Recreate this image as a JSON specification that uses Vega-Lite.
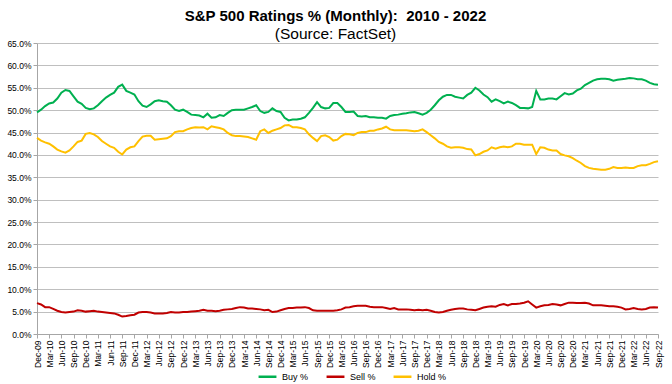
{
  "$schema": "https://vega.github.io/schema/vega-lite/v6.json",
  "width": 621,
  "height": 291,
  "autosize": {"type": "none"},
  "padding": {"left": 37, "top": 43, "right": 14, "bottom": 50},
  "background": "white",
  "title": {
    "text": "S&P 500 Ratings % (Monthly):\u00a0 2010 - 2022",
    "subtitle": "(Source: FactSet)",
    "font": "Liberation Sans",
    "subtitleFont": "Liberation Sans",
    "fontSize": 15,
    "subtitleFontSize": 15.5,
    "fontWeight": "bold",
    "color": "black",
    "subtitleColor": "black",
    "anchor": "middle",
    "offset": -3,
    "subtitlePadding": 3,
    "dx": -12
  },
  "data": {
    "values": [
      {"d": "2009-12", "Buy": 49.5, "Sell": 6.9, "Hold": 43.8},
      {"d": "2010-01", "Buy": 50.1, "Sell": 6.6, "Hold": 43.2},
      {"d": "2010-02", "Buy": 50.9, "Sell": 6.0, "Hold": 42.8},
      {"d": "2010-03", "Buy": 51.5, "Sell": 6.0, "Hold": 42.5},
      {"d": "2010-04", "Buy": 51.7, "Sell": 5.6, "Hold": 41.9},
      {"d": "2010-05", "Buy": 52.6, "Sell": 5.2, "Hold": 41.2},
      {"d": "2010-06", "Buy": 53.9, "Sell": 4.9, "Hold": 40.8},
      {"d": "2010-07", "Buy": 54.5, "Sell": 4.8, "Hold": 40.5},
      {"d": "2010-08", "Buy": 54.3, "Sell": 4.9, "Hold": 41.0},
      {"d": "2010-09", "Buy": 53.1, "Sell": 5.0, "Hold": 41.9},
      {"d": "2010-10", "Buy": 51.9, "Sell": 5.3, "Hold": 42.9},
      {"d": "2010-11", "Buy": 51.4, "Sell": 5.2, "Hold": 43.2},
      {"d": "2010-12", "Buy": 50.5, "Sell": 5.0, "Hold": 44.7},
      {"d": "2011-01", "Buy": 50.2, "Sell": 5.1, "Hold": 44.9},
      {"d": "2011-02", "Buy": 50.4, "Sell": 5.2, "Hold": 44.6},
      {"d": "2011-03", "Buy": 51.1, "Sell": 5.0, "Hold": 44.0},
      {"d": "2011-04", "Buy": 52.0, "Sell": 4.9, "Hold": 43.1},
      {"d": "2011-05", "Buy": 52.8, "Sell": 4.8, "Hold": 42.5},
      {"d": "2011-06", "Buy": 53.4, "Sell": 4.7, "Hold": 41.9},
      {"d": "2011-07", "Buy": 53.9, "Sell": 4.6, "Hold": 41.6},
      {"d": "2011-08", "Buy": 55.2, "Sell": 4.3, "Hold": 40.7},
      {"d": "2011-09", "Buy": 55.7, "Sell": 3.9, "Hold": 40.1},
      {"d": "2011-10", "Buy": 54.3, "Sell": 4.0, "Hold": 41.2},
      {"d": "2011-11", "Buy": 53.9, "Sell": 4.2, "Hold": 41.7},
      {"d": "2011-12", "Buy": 53.5, "Sell": 4.3, "Hold": 41.9},
      {"d": "2012-01", "Buy": 52.0, "Sell": 4.8, "Hold": 43.1},
      {"d": "2012-02", "Buy": 51.0, "Sell": 4.9, "Hold": 44.1},
      {"d": "2012-03", "Buy": 50.7, "Sell": 4.9, "Hold": 44.3},
      {"d": "2012-04", "Buy": 51.3, "Sell": 4.8, "Hold": 44.3},
      {"d": "2012-05", "Buy": 52.0, "Sell": 4.6, "Hold": 43.4},
      {"d": "2012-06", "Buy": 52.2, "Sell": 4.6, "Hold": 43.5},
      {"d": "2012-07", "Buy": 52.0, "Sell": 4.6, "Hold": 43.6},
      {"d": "2012-08", "Buy": 51.9, "Sell": 4.7, "Hold": 43.7},
      {"d": "2012-09", "Buy": 51.1, "Sell": 4.9, "Hold": 44.2},
      {"d": "2012-10", "Buy": 50.1, "Sell": 4.8, "Hold": 45.1},
      {"d": "2012-11", "Buy": 49.8, "Sell": 4.8, "Hold": 45.3},
      {"d": "2012-12", "Buy": 50.1, "Sell": 4.9, "Hold": 45.3},
      {"d": "2013-01", "Buy": 49.6, "Sell": 4.9, "Hold": 45.7},
      {"d": "2013-02", "Buy": 49.0, "Sell": 5.0, "Hold": 46.0},
      {"d": "2013-03", "Buy": 48.9, "Sell": 5.1, "Hold": 46.2},
      {"d": "2013-04", "Buy": 48.8, "Sell": 5.2, "Hold": 46.1},
      {"d": "2013-05", "Buy": 48.4, "Sell": 5.4, "Hold": 46.2},
      {"d": "2013-06", "Buy": 49.2, "Sell": 5.2, "Hold": 45.7},
      {"d": "2013-07", "Buy": 48.3, "Sell": 5.2, "Hold": 46.4},
      {"d": "2013-08", "Buy": 48.4, "Sell": 5.1, "Hold": 46.2},
      {"d": "2013-09", "Buy": 48.9, "Sell": 5.2, "Hold": 46.0},
      {"d": "2013-10", "Buy": 48.7, "Sell": 5.4, "Hold": 45.7},
      {"d": "2013-11", "Buy": 49.4, "Sell": 5.5, "Hold": 44.9},
      {"d": "2013-12", "Buy": 50.0, "Sell": 5.6, "Hold": 44.4},
      {"d": "2014-01", "Buy": 50.1, "Sell": 5.8, "Hold": 44.2},
      {"d": "2014-02", "Buy": 50.1, "Sell": 6.0, "Hold": 44.2},
      {"d": "2014-03", "Buy": 50.1, "Sell": 5.9, "Hold": 44.1},
      {"d": "2014-04", "Buy": 50.4, "Sell": 5.7, "Hold": 44.0},
      {"d": "2014-05", "Buy": 50.7, "Sell": 5.7, "Hold": 43.7},
      {"d": "2014-06", "Buy": 51.1, "Sell": 5.6, "Hold": 43.4},
      {"d": "2014-07", "Buy": 49.8, "Sell": 5.5, "Hold": 45.3},
      {"d": "2014-08", "Buy": 49.4, "Sell": 5.3, "Hold": 45.7},
      {"d": "2014-09", "Buy": 49.6, "Sell": 5.4, "Hold": 44.9},
      {"d": "2014-10", "Buy": 50.4, "Sell": 4.9, "Hold": 45.4},
      {"d": "2014-11", "Buy": 49.8, "Sell": 5.0, "Hold": 45.7},
      {"d": "2014-12", "Buy": 49.6, "Sell": 5.3, "Hold": 46.0},
      {"d": "2015-01", "Buy": 48.3, "Sell": 5.6, "Hold": 46.6},
      {"d": "2015-02", "Buy": 47.7, "Sell": 5.8, "Hold": 46.7},
      {"d": "2015-03", "Buy": 47.9, "Sell": 5.8, "Hold": 46.2},
      {"d": "2015-04", "Buy": 47.9, "Sell": 5.9, "Hold": 46.2},
      {"d": "2015-05", "Buy": 48.1, "Sell": 5.9, "Hold": 46.0},
      {"d": "2015-06", "Buy": 48.4, "Sell": 6.0, "Hold": 45.7},
      {"d": "2015-07", "Buy": 49.4, "Sell": 5.8, "Hold": 44.6},
      {"d": "2015-08", "Buy": 50.5, "Sell": 5.3, "Hold": 43.8},
      {"d": "2015-09", "Buy": 51.8, "Sell": 5.2, "Hold": 43.1},
      {"d": "2015-10", "Buy": 50.7, "Sell": 5.2, "Hold": 44.2},
      {"d": "2015-11", "Buy": 50.4, "Sell": 5.2, "Hold": 44.4},
      {"d": "2015-12", "Buy": 50.5, "Sell": 5.2, "Hold": 44.0},
      {"d": "2016-01", "Buy": 51.6, "Sell": 5.2, "Hold": 43.2},
      {"d": "2016-02", "Buy": 51.6, "Sell": 5.3, "Hold": 43.4},
      {"d": "2016-03", "Buy": 50.7, "Sell": 5.5, "Hold": 44.2},
      {"d": "2016-04", "Buy": 49.6, "Sell": 5.9, "Hold": 44.7},
      {"d": "2016-05", "Buy": 49.6, "Sell": 6.0, "Hold": 44.6},
      {"d": "2016-06", "Buy": 49.7, "Sell": 6.2, "Hold": 44.4},
      {"d": "2016-07", "Buy": 48.7, "Sell": 6.3, "Hold": 44.9},
      {"d": "2016-08", "Buy": 48.6, "Sell": 6.3, "Hold": 45.1},
      {"d": "2016-09", "Buy": 48.7, "Sell": 6.3, "Hold": 45.1},
      {"d": "2016-10", "Buy": 48.4, "Sell": 6.1, "Hold": 45.4},
      {"d": "2016-11", "Buy": 48.4, "Sell": 6.0, "Hold": 45.4},
      {"d": "2016-12", "Buy": 48.3, "Sell": 6.0, "Hold": 45.7},
      {"d": "2017-01", "Buy": 48.3, "Sell": 6.0, "Hold": 45.9},
      {"d": "2017-02", "Buy": 48.1, "Sell": 5.8, "Hold": 46.3},
      {"d": "2017-03", "Buy": 48.7, "Sell": 5.6, "Hold": 45.7},
      {"d": "2017-04", "Buy": 48.9, "Sell": 5.8, "Hold": 45.5},
      {"d": "2017-05", "Buy": 49.0, "Sell": 5.5, "Hold": 45.5},
      {"d": "2017-06", "Buy": 49.2, "Sell": 5.5, "Hold": 45.5},
      {"d": "2017-07", "Buy": 49.3, "Sell": 5.5, "Hold": 45.5},
      {"d": "2017-08", "Buy": 49.5, "Sell": 5.4, "Hold": 45.4},
      {"d": "2017-09", "Buy": 49.6, "Sell": 5.3, "Hold": 45.3},
      {"d": "2017-10", "Buy": 49.3, "Sell": 5.4, "Hold": 45.4},
      {"d": "2017-11", "Buy": 49.0, "Sell": 5.3, "Hold": 45.7},
      {"d": "2017-12", "Buy": 49.4, "Sell": 5.4, "Hold": 45.1},
      {"d": "2018-01", "Buy": 50.1, "Sell": 5.2, "Hold": 44.4},
      {"d": "2018-02", "Buy": 51.1, "Sell": 4.9, "Hold": 43.7},
      {"d": "2018-03", "Buy": 52.2, "Sell": 4.8, "Hold": 42.9},
      {"d": "2018-04", "Buy": 53.0, "Sell": 4.9, "Hold": 42.5},
      {"d": "2018-05", "Buy": 53.4, "Sell": 5.2, "Hold": 41.9},
      {"d": "2018-06", "Buy": 53.4, "Sell": 5.4, "Hold": 41.6},
      {"d": "2018-07", "Buy": 53.0, "Sell": 5.6, "Hold": 41.7},
      {"d": "2018-08", "Buy": 52.8, "Sell": 5.7, "Hold": 41.7},
      {"d": "2018-09", "Buy": 52.6, "Sell": 5.7, "Hold": 41.6},
      {"d": "2018-10", "Buy": 53.4, "Sell": 5.5, "Hold": 41.3},
      {"d": "2018-11", "Buy": 53.9, "Sell": 5.4, "Hold": 41.2},
      {"d": "2018-12", "Buy": 55.0, "Sell": 5.3, "Hold": 39.9},
      {"d": "2019-01", "Buy": 54.4, "Sell": 5.6, "Hold": 40.2},
      {"d": "2019-02", "Buy": 53.5, "Sell": 5.9, "Hold": 40.7},
      {"d": "2019-03", "Buy": 52.9, "Sell": 6.1, "Hold": 41.0},
      {"d": "2019-04", "Buy": 51.9, "Sell": 6.2, "Hold": 41.7},
      {"d": "2019-05", "Buy": 52.4, "Sell": 6.1, "Hold": 41.4},
      {"d": "2019-06", "Buy": 52.0, "Sell": 6.5, "Hold": 41.7},
      {"d": "2019-07", "Buy": 51.5, "Sell": 6.7, "Hold": 41.9},
      {"d": "2019-08", "Buy": 51.9, "Sell": 6.4, "Hold": 41.7},
      {"d": "2019-09", "Buy": 51.6, "Sell": 6.7, "Hold": 41.9},
      {"d": "2019-10", "Buy": 51.1, "Sell": 6.7, "Hold": 42.5},
      {"d": "2019-11", "Buy": 50.5, "Sell": 6.8, "Hold": 42.5},
      {"d": "2019-12", "Buy": 50.5, "Sell": 7.0, "Hold": 42.3},
      {"d": "2020-01", "Buy": 50.4, "Sell": 7.3, "Hold": 42.3},
      {"d": "2020-02", "Buy": 50.7, "Sell": 6.6, "Hold": 42.3},
      {"d": "2020-03", "Buy": 54.3, "Sell": 5.9, "Hold": 40.2},
      {"d": "2020-04", "Buy": 52.4, "Sell": 6.2, "Hold": 41.7},
      {"d": "2020-05", "Buy": 52.4, "Sell": 6.4, "Hold": 41.6},
      {"d": "2020-06", "Buy": 52.6, "Sell": 6.5, "Hold": 41.2},
      {"d": "2020-07", "Buy": 52.6, "Sell": 6.7, "Hold": 41.0},
      {"d": "2020-08", "Buy": 52.4, "Sell": 6.6, "Hold": 41.0},
      {"d": "2020-09", "Buy": 53.1, "Sell": 6.4, "Hold": 40.2},
      {"d": "2020-10", "Buy": 53.8, "Sell": 6.7, "Hold": 39.9},
      {"d": "2020-11", "Buy": 53.5, "Sell": 7.0, "Hold": 39.7},
      {"d": "2020-12", "Buy": 53.7, "Sell": 7.0, "Hold": 39.3},
      {"d": "2021-01", "Buy": 54.4, "Sell": 6.9, "Hold": 38.7},
      {"d": "2021-02", "Buy": 54.8, "Sell": 6.9, "Hold": 38.2},
      {"d": "2021-03", "Buy": 55.6, "Sell": 7.0, "Hold": 37.5},
      {"d": "2021-04", "Buy": 56.1, "Sell": 6.8, "Hold": 37.1},
      {"d": "2021-05", "Buy": 56.6, "Sell": 6.4, "Hold": 36.9},
      {"d": "2021-06", "Buy": 56.9, "Sell": 6.4, "Hold": 36.8},
      {"d": "2021-07", "Buy": 57.0, "Sell": 6.4, "Hold": 36.7},
      {"d": "2021-08", "Buy": 57.0, "Sell": 6.3, "Hold": 36.7},
      {"d": "2021-09", "Buy": 56.9, "Sell": 6.2, "Hold": 36.9},
      {"d": "2021-10", "Buy": 56.6, "Sell": 6.2, "Hold": 37.3},
      {"d": "2021-11", "Buy": 56.8, "Sell": 6.1, "Hold": 37.1},
      {"d": "2021-12", "Buy": 56.9, "Sell": 5.9, "Hold": 37.1},
      {"d": "2022-01", "Buy": 57.0, "Sell": 5.5, "Hold": 37.2},
      {"d": "2022-02", "Buy": 57.2, "Sell": 5.6, "Hold": 37.1},
      {"d": "2022-03", "Buy": 57.1, "Sell": 5.8, "Hold": 37.1},
      {"d": "2022-04", "Buy": 56.9, "Sell": 5.6, "Hold": 37.5},
      {"d": "2022-05", "Buy": 56.9, "Sell": 5.5, "Hold": 37.7},
      {"d": "2022-06", "Buy": 56.6, "Sell": 5.6, "Hold": 37.7},
      {"d": "2022-07", "Buy": 56.1, "Sell": 5.9, "Hold": 38.0},
      {"d": "2022-08", "Buy": 55.8, "Sell": 6.0, "Hold": 38.4},
      {"d": "2022-09", "Buy": 55.7, "Sell": 5.9, "Hold": 38.6}
    ]
  },
  "transform": [{"fold": ["Buy", "Sell", "Hold"], "as": ["series", "value"]}],
  "mark": {"type": "line", "strokeWidth": 2},
  "encoding": {
    "x": {
      "field": "d",
      "type": "ordinal",
      "scale": {"type": "point", "padding": 0},
      "axis": {
        "title": null,
        "values": ["2009-12","2010-03","2010-06","2010-09","2010-12","2011-03","2011-06","2011-09","2011-12","2012-03","2012-06","2012-09","2012-12","2013-03","2013-06","2013-09","2013-12","2014-03","2014-06","2014-09","2014-12","2015-03","2015-06","2015-09","2015-12","2016-03","2016-06","2016-09","2016-12","2017-03","2017-06","2017-09","2017-12","2018-03","2018-06","2018-09","2018-12","2019-03","2019-06","2019-09","2019-12","2020-03","2020-06","2020-09","2020-12","2021-03","2021-06","2021-09","2021-12","2022-03","2022-06","2022-09"],
        "labelExpr": "['Jan','Feb','Mar','Apr','May','Jun','Jul','Aug','Sep','Oct','Nov','Dec'][toNumber(substring(datum.value, 5, 7)) - 1] + '-' + substring(datum.value, 2, 4)",
        "labelAngle": -90,
        "labelFontSize": 8.5,
        "labelColor": "black",
        "labelFont": "Liberation Sans",
        "labelPadding": 2,
        "tickSize": 4,
        "tickColor": "#A6A6A6",
        "domainColor": "#A6A6A6",
        "grid": false
      }
    },
    "y": {
      "field": "value",
      "type": "quantitative",
      "scale": {"domain": [0, 65], "nice": false},
      "axis": {
        "title": null,
        "values": [0, 5, 10, 15, 20, 25, 30, 35, 40, 45, 50, 55, 60, 65],
        "labelExpr": "format(datum.value, '.1f') + '%'",
        "labelFontSize": 8.5,
        "labelColor": "black",
        "labelFont": "Liberation Sans",
        "labelPadding": 2,
        "tickSize": 4,
        "tickColor": "#A6A6A6",
        "domainColor": "#A6A6A6",
        "grid": true,
        "gridColor": "#BFBFBF",
        "gridWidth": 1
      }
    },
    "color": {
      "field": "series",
      "type": "nominal",
      "scale": {"domain": ["Buy", "Sell", "Hold"], "range": ["#00B050", "#C00000", "#FFC000"]},
      "legend": {
        "orient": "none",
        "legendX": 220,
        "legendY": 323,
        "direction": "horizontal",
        "title": null,
        "symbolType": "stroke",
        "symbolStrokeWidth": 2.5,
        "symbolSize": 320,
        "labelFontSize": 9,
        "labelColor": "black",
        "labelFont": "Liberation Sans",
        "labelExpr": "datum.label + ' %'",
        "columnPadding": 12
      }
    }
  },
  "config": {"view": {"stroke": null}, "font": "Liberation Sans"}
}
